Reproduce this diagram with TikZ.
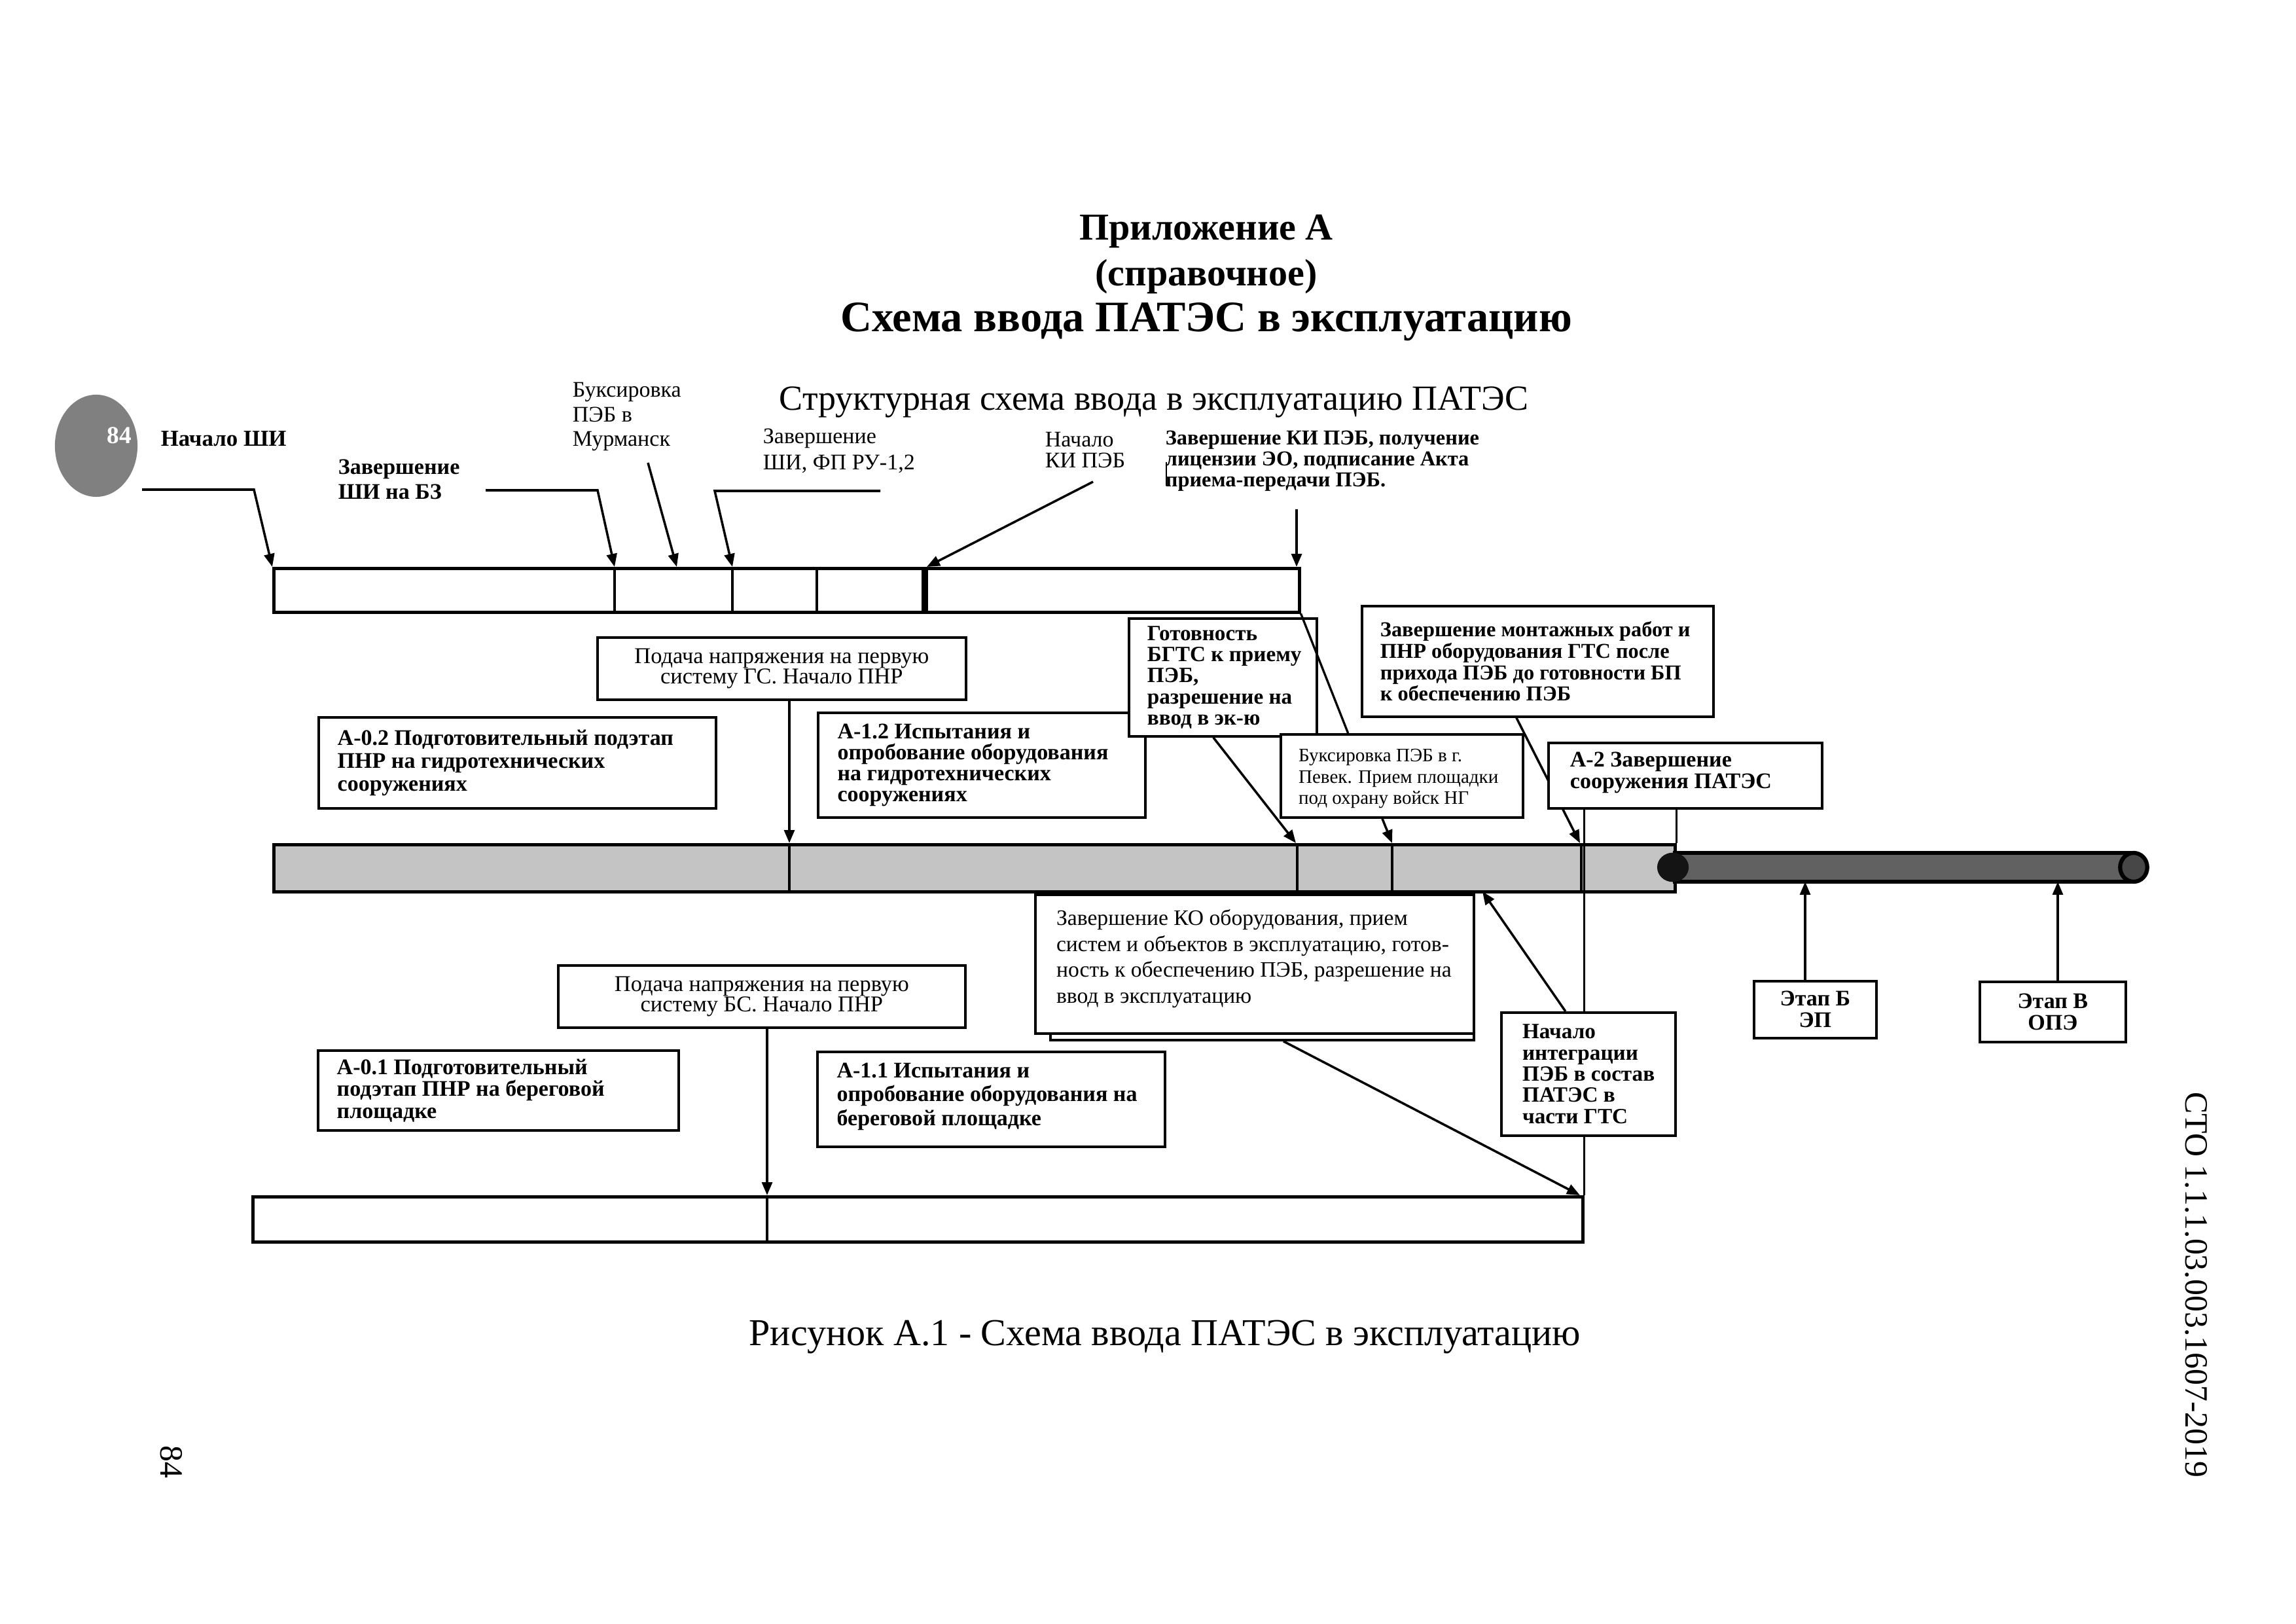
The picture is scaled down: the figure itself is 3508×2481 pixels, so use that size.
\documentclass[tikz,border=0pt]{standalone}
\usepackage{fontspec}
\setmainfont{Liberation Serif}
\usetikzlibrary{arrows.meta,calc}
\def\pxu{0.2409pt}
\newcommand\VL[1]{\vtop{\lineskiplimit=-100pt\let\\\cr\halign{##\hfil\cr#1\crcr}}}
\newcommand\VC[1]{\vtop{\lineskiplimit=-100pt\let\\\cr\halign{\hfil##\hfil\cr#1\crcr}}}
\newcommand\fs[2]{\fontsize{#1pt}{#2pt}\selectfont}
\begin{document}
\begin{tikzpicture}[x=0.2409pt, y=-0.2409pt,
  ln/.style={line width=0.8pt},
  arr/.style={line width=0.85pt, -{Triangle[length=4.8pt,width=3.8pt]}},
  bx/.style={draw, fill=white, line width=0.9pt, inner sep=0pt, anchor=north west},
  bar/.style={draw, line width=1.1pt, inner sep=0pt, anchor=north west},
  tx/.style={inner sep=0pt, anchor=west},
  tc/.style={inner sep=0pt},
  lab/.style={inner sep=0pt, anchor=base west},
]
\useasboundingbox (0,0) rectangle (3508,2481);
\fill[white] (0,0) rectangle (3508,2481);

% titles
\node[anchor=base, inner sep=0pt, font=\fs{14}{16}\bfseries] (ttl1) at (1843,367) {Приложение А};
\node[anchor=base, inner sep=0pt, font=\fs{14}{16}\bfseries] (ttl2) at (1843,437) {(справочное)};
\node[anchor=base, inner sep=0pt, font=\fs{16}{18}\bfseries] (ttl3) at (1843,507) {Схема ввода ПАТЭС в эксплуатацию};
\node[anchor=base, inner sep=0pt, font=\fs{13}{15}] (ttl4) at (1763,627) {Структурная схема ввода в эксплуатацию ПАТЭС};
\node[anchor=base, inner sep=0pt, font=\fs{14}{16}] (cap) at (1780,2055) {Рисунок А.1 - Схема ввода ПАТЭС в эксплуатацию};
\node[rotate=-90, inner sep=0pt, font=\fs{12}{14}] (sto) at (3356,1963) {СТО 1.1.1.03.003.1607-2019};
\node[rotate=-90, inner sep=0pt, font=\fs{12}{14}] (pgno) at (262,2233) {84};

% stamp
\fill[black!50] (147,681) ellipse [x radius=15.2pt, y radius=18.8pt];
\node[inner sep=0pt, text=white, font=\fs{9}{10}\bfseries] (stamp) at (182,665) {84};

% bars
\node[bar, minimum width=1567*\pxu, minimum height=67*\pxu] (topbar) at (416,866) {};
\node[bar, fill=black!23, minimum width=2141*\pxu, minimum height=72*\pxu] (graybar) at (416,1288) {};
\node[bar, minimum width=2032*\pxu, minimum height=69*\pxu] (lowbar) at (384,1826) {};

% dividers
\foreach \x in {939,1119,1248} \draw[ln] (\x,866) -- (\x,933);
\draw[line width=2.2pt] (1413,866) -- (1413,933);
\foreach \x in {1206,1982,2127,2416} \draw[ln] (\x,1288) -- (\x,1360);
\draw[ln] (1172,1826) -- (1172,1895);

% coordinates
\coordinate (s1) at (217,748);  \coordinate (s1b) at (388,748);  \coordinate (tA) at (416,866);
\coordinate (s2) at (742,749);  \coordinate (s2b) at (913,749);  \coordinate (tB) at (939,866);
\coordinate (s3) at (990,707);  \coordinate (tC) at (1034,866);
\coordinate (s4) at (1345,750); \coordinate (s4b) at (1092,750); \coordinate (tD) at (1119,866);
\coordinate (s5) at (1670,736); \coordinate (tE) at (1416,866);
\coordinate (s6) at (1981,778); \coordinate (tF) at (1981,866);
\coordinate (g1) at (1206,1288); \coordinate (g2) at (1980,1288);
\coordinate (g3) at (2127,1288); \coordinate (g4) at (2414,1288);
\coordinate (gi) at (2265,1362);
\coordinate (l1) at (1172,1826); \coordinate (l2) at (2414,1826);
\coordinate (pB) at (2758,1347); \coordinate (pV) at (3144,1347);

% top labels
\node[lab, font=\fs{8.4}{9.0}\bfseries] (L1) at (245,682) {\VL{Начало ШИ}};
\node[lab, font=\fs{8.2}{9.15}\bfseries] (L2) at (516,725) {\VL{Завершение\\ШИ на БЗ}};
\node[lab, font=\fs{8.2}{9.0}] (L3) at (874,607) {\VL{Буксировка\\ПЭБ в\\Мурманск}};
\node[lab, font=\fs{8.2}{9.4}] (L4) at (1165,678) {\VL{Завершение\\ШИ, ФП РУ-1,2}};
\node[lab, font=\fs{8.2}{7.7}] (L5) at (1596,683) {\VL{Начало\\КИ ПЭБ}};
\node[lab, font=\fs{7.8}{7.6}\bfseries] (L6) at (1780,680) {\VL{Завершение КИ ПЭБ, получение\\лицензии ЭО, подписание Акта\\приема-передачи ПЭБ.}};
\draw[line width=0.5pt] (1782,706) -- (1782,742);

% boxes
\node[bx, minimum width=563*\pxu, minimum height=95*\pxu] (podGS) at (911,972) {};
\node[bx, minimum width=607*\pxu, minimum height=139*\pxu] (A02) at (485,1094) {};
\node[bx, minimum width=500*\pxu, minimum height=160*\pxu] (A12) at (1248,1087) {};
\node[bx, minimum width=287*\pxu, minimum height=180*\pxu] (Gotov) at (1723,943) {};
\node[bx, minimum width=537*\pxu, minimum height=169*\pxu] (Montazh) at (2079,924) {};
\node[bx, minimum width=370*\pxu, minimum height=127*\pxu] (Pevek) at (1955,1120) {};
\node[bx, minimum width=418*\pxu, minimum height=100*\pxu] (A2) at (2364,1133) {};

% connectors behind boxes
\draw[arr] (s1) -- (s1b) -- (tA);
\draw[arr] (s2) -- (s2b) -- (tB);
\draw[arr] (s3) -- (tC);
\draw[arr] (s4) -- (s4b) -- (tD);
\draw[arr] (s5) -- (tE);
\draw[arr] (s6) -- (tF);
\draw[arr] (podGS.south -| g1) -- (g1);
\draw[arr] ($(Gotov.south west)!0.45!(Gotov.south east)$) -- (g2);
\draw[arr] ($(Pevek.south west)!0.42!(Pevek.south east)$) -- (g3);
\draw[arr] ($(Montazh.south west)!0.44!(Montazh.south east)$) -- (g4);
\draw[ln] (A2.south -| lowbar.north east) -- (lowbar.north east);
\draw[ln] (A2.south -| graybar.north east) -- (graybar.north east);

% redraw A2 over the line from Montazh
\node[bx, minimum width=418*\pxu, minimum height=100*\pxu] (A2f) at (2364,1133) {};

% lower boxes
\node[bx, minimum width=647*\pxu, minimum height=210*\pxu] (KOb) at (1603,1377) {};
\node[bx, minimum width=670*\pxu, minimum height=212*\pxu] (KO) at (1580,1365) {};
\node[bx, minimum width=266*\pxu, minimum height=188*\pxu] (Integr) at (2292,1545) {};
\node[bx, minimum width=187*\pxu, minimum height=87*\pxu] (EtapB) at (2678,1497) {};
\node[bx, minimum width=223*\pxu, minimum height=92*\pxu] (EtapV) at (3023,1498) {};
\node[bx, minimum width=622*\pxu, minimum height=95*\pxu] (podBS) at (851,1473) {};
\node[bx, minimum width=551*\pxu, minimum height=122*\pxu] (A01) at (484,1603) {};
\node[bx, minimum width=531*\pxu, minimum height=145*\pxu] (A11) at (1247,1605) {};

\draw[arr] ($(Integr.north west)!0.37!(Integr.north east)$) -- (gi);
\draw[arr] ($(KOb.south west)!0.55!(KOb.south east)$) -- (l2);
\draw[arr] (podBS.south -| l1) -- (l1);
\draw[arr] (EtapB.north -| pB) -- (pB);
\draw[arr] (EtapV.north -| pV) -- (pV);

% box texts
\node[tc, font=\fs{8.3}{7.6}] (podGSt) at (podGS.center) {\VC{Подача напряжения на первую\\систему ГС. Начало ПНР}};
\node[tx, font=\fs{8.2}{8.5}\bfseries] (A02t) at ([xshift=7.2pt]A02.west) {\VL{А-0.2 Подготовительный подэтап\\ПНР на гидротехнических\\сооружениях}};
\node[tx, font=\fs{8.2}{7.75}\bfseries] (A12t) at ([xshift=7.4pt]A12.west) {\VL{А-1.2 Испытания и\\опробование оборудования\\на гидротехнических\\сооружениях}};
\node[tx, font=\fs{8.0}{7.8}\bfseries] (Gotovt) at ([xshift=7.0pt]Gotov.west) {\VL{Готовность\\БГТС к приему\\ПЭБ,\\разрешение на\\ввод в эк-ю}};
\node[tx, font=\fs{7.8}{7.9}\bfseries] (Montazht) at ([xshift=7.0pt]Montazh.west) {\VL{Завершение монтажных работ и\\ПНР оборудования ГТС после\\прихода ПЭБ до готовности БП\\к обеспечению ПЭБ}};
\node[tx, font=\fs{7.0}{7.8}] (Pevekt) at ([xshift=6.8pt, yshift=-1pt]Pevek.west) {\VL{Буксировка ПЭБ в г.\\Певек. Прием площадки\\под охрану войск НГ}};
\node[tx, font=\fs{8.2}{7.95}\bfseries] (A2t) at ([xshift=8.2pt, yshift=1pt]A2f.west) {\VL{А-2 Завершение\\сооружения ПАТЭС}};
\node[tx, font=\fs{8.1}{9.55}] (KOt) at ([xshift=8pt, yshift=2pt]KO.west) {\VL{Завершение КО оборудования, прием\\систем и объектов в эксплуатацию, готов-\\ность к обеспечению ПЭБ, разрешение на\\ввод в эксплуатацию}};
\node[tx, font=\fs{8.0}{7.8}\bfseries] (Integrt) at ([xshift=8pt]Integr.west) {\VL{Начало\\интеграции\\ПЭБ в состав\\ПАТЭС в\\части ГТС}};
\node[tc, font=\fs{8.2}{7.95}\bfseries] (EtapBt) at (EtapB.center) {\VC{Этап Б\\ЭП}};
\node[tc, font=\fs{8.2}{7.95}\bfseries] (EtapVt) at (EtapV.center) {\VC{Этап В\\ОПЭ}};
\node[tc, font=\fs{8.3}{7.6}] (podBSt) at (podBS.center) {\VC{Подача напряжения на первую\\систему БС. Начало ПНР}};
\node[tx, font=\fs{8.2}{8.1}\bfseries] (A01t) at ([xshift=7.2pt]A01.west) {\VL{А-0.1 Подготовительный\\подэтап ПНР на береговой\\площадке}};
\node[tx, font=\fs{8.2}{8.8}\bfseries] (A11t) at ([xshift=7.4pt, yshift=1pt]A11.west) {\VL{А-1.1 Испытания и\\опробование оборудования на\\береговой площадке}};

% line from top bar end over the Gotov box to Pevek
\draw[ln] (topbar.south east) -- ($(Pevek.north west)!0.28!(Pevek.north east)$);

% pipe
\fill[black!62] (2556,1303) rectangle (3260,1347);
\draw[line width=1.3pt] (2556,1303) -- (3260,1303) (2556,1347) -- (3260,1347);
\draw[line width=1.5pt, fill=black!72] (3260,1325) ellipse [x radius=5pt, y radius=5.3pt];
\fill[black!92] (2556,1325) ellipse [x radius=5.8pt, y radius=5.4pt];
\end{tikzpicture}
\end{document}
